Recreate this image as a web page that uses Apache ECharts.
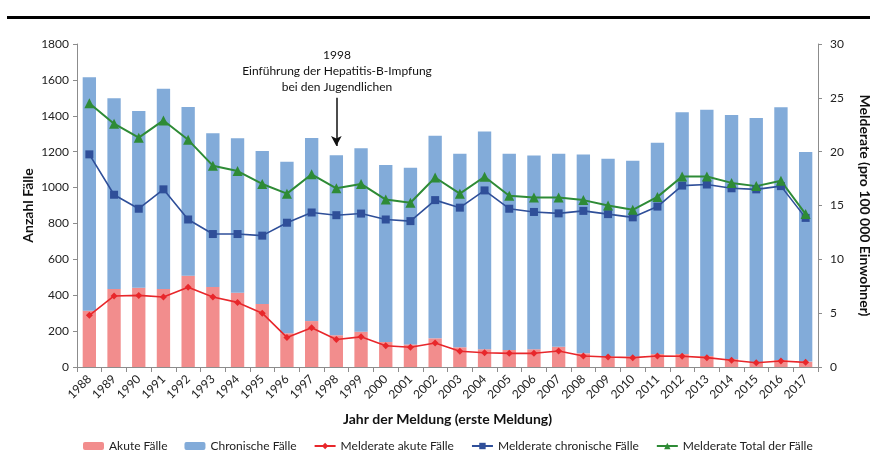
<!DOCTYPE html>
<html>
<head>
<meta charset="utf-8">
<script src="https://cdn.jsdelivr.net/npm/echarts@6/dist/echarts.min.js"></script>
<style>
  html, body { margin: 0; padding: 0; background: #fff; }
  #main { width: 870px; height: 461px; }
</style>
</head>
<body>
<div id="main"></div>
<script>
// Jahre
var years = ['1988','1989','1990','1991','1992','1993','1994','1995','1996','1997',
             '1998','1999','2000','2001','2002','2003','2004','2005','2006','2007',
             '2008','2009','2010','2011','2012','2013','2014','2015','2016','2017'];

// Fallzahlen (gestapelt)
var akuteFaelle = [314, 435, 442, 435, 509, 446, 414, 351, 188, 256,
                   177, 197, 139, 126, 160, 110, 99, 95, 99, 113,
                   76, 60, 58, 72, 72, 61, 45, 24, 39, 30];
var chronischeFaelle = [1301, 1063, 985, 1116, 940, 857, 861, 853, 956, 1020,
                        1003, 1022, 987, 985, 1129, 1079, 1213, 1094, 1079, 1076,
                        1108, 1100, 1092, 1177, 1348, 1373, 1360, 1364, 1408, 1168];

// Melderaten pro 100 000 Einwohner
var rateAkut = [4.8, 6.6, 6.65, 6.5, 7.4, 6.5, 6.0, 5.0, 2.75, 3.65,
                2.55, 2.8, 1.98, 1.83, 2.23, 1.46, 1.33, 1.27, 1.27, 1.49,
                1.02, 0.93, 0.87, 1.02, 1.0, 0.87, 0.62, 0.4, 0.56, 0.43];
var rateChronisch = [19.75, 16.0, 14.7, 16.5, 13.7, 12.35, 12.35, 12.2, 13.4, 14.35,
                     14.1, 14.25, 13.7, 13.55, 15.5, 14.8, 16.4, 14.7, 14.4, 14.27,
                     14.5, 14.2, 13.9, 14.9, 16.85, 16.95, 16.6, 16.5, 16.8, 13.85];
var rateTotal = [24.5, 22.6, 21.3, 22.9, 21.1, 18.7, 18.2, 17.0, 16.1, 17.9,
                 16.6, 17.0, 15.55, 15.25, 17.6, 16.1, 17.67, 15.9, 15.75, 15.75,
                 15.5, 15.0, 14.6, 15.8, 17.7, 17.7, 17.1, 16.8, 17.3, 14.2];

var leftTicks = [0, 1800, 200];
var rightTicks = [0, 30, 5];

var font = 'Lato, "Liberation Sans", sans-serif';
var axisGrey = '#8c8c8c';

var chart = echarts.init(document.getElementById('main'));
chart.setOption({
    animation: false,
    textStyle: { fontFamily: font, color: '#222' },
    grid: { left: 77, right: 52, top: 44, bottom: 94, outerBoundsMode: 'none' },
    graphic: [
        // Linie oben
        { type: 'rect', shape: { x: 7, y: 16, width: 863, height: 3 }, style: { fill: '#000' } },
        // Anmerkung 1998
        {
            type: 'text', x: 337, y: 47,
            style: {
                text: '1998\nEinführung der Hepatitis-B-Impfung\nbei den Jugendlichen',
                font: '12px Lato, "Liberation Sans", sans-serif',
                fill: '#111', align: 'center', verticalAlign: 'top', lineHeight: 16
            }
        }
    ],
    legend: {
        bottom: 9,
        left: 83,
        padding: 0,
        itemWidth: 21,
        itemHeight: 8,
        itemGap: 17,
        textStyle: { fontSize: 12, color: '#222', fontFamily: font },
        data: ['Akute Fälle', 'Chronische Fälle', 'Melderate akute Fälle',
               'Melderate chronische Fälle', 'Melderate Total der Fälle']
    },
    xAxis: {
        type: 'category',
        data: years,
        name: 'Jahr der Meldung (erste Meldung)',
        nameLocation: 'middle',
        nameGap: 45,
        nameMoveOverlap: false,
        nameTextStyle: { fontSize: 14, fontWeight: 'bold', color: '#111' },
        axisLine: { lineStyle: { color: axisGrey } },
        axisTick: { show: true, length: 5, lineStyle: { color: axisGrey } },
        axisLabel: { rotate: 45, fontSize: 12, color: '#222', margin: 10, interval: 0 }
    },
    yAxis: [
        {
            type: 'value',
            min: leftTicks[0], max: leftTicks[1], interval: leftTicks[2],
            name: 'Anzahl Fälle',
            nameLocation: 'middle',
            nameGap: 42,
            nameMoveOverlap: false,
            nameTextStyle: { fontSize: 14, fontWeight: 'bold', color: '#111' },
            axisLine: { show: true, lineStyle: { color: axisGrey } },
            axisTick: { show: true, length: 4, lineStyle: { color: axisGrey } },
            axisLabel: { fontSize: 12, color: '#222', margin: 8, formatter: function (v) { return String(v); } },
            splitLine: { show: false }
        },
        {
            type: 'value',
            min: rightTicks[0], max: rightTicks[1], interval: rightTicks[2],
            name: 'Melderate (pro 100 000 Einwohner)',
            nameLocation: 'middle',
            nameRotate: -90,
            nameGap: 47,
            nameMoveOverlap: false,
            nameTextStyle: { fontSize: 14, fontWeight: 'bold', color: '#111', verticalAlign: 'middle' },
            axisLine: { show: true, lineStyle: { color: axisGrey } },
            axisTick: { show: true, length: 4, lineStyle: { color: axisGrey } },
            axisLabel: { fontSize: 12, color: '#222', margin: 12 },
            splitLine: { show: false }
        }
    ],
    series: [
        {
            name: 'Akute Fälle',
            type: 'bar',
            stack: 'faelle',
            barCategoryGap: '46%',
            itemStyle: { color: '#f28d8d' },
            data: akuteFaelle,
            markLine: {
                silent: true,
                symbol: ['none', 'arrow'],
                symbolSize: [8, 10],
                lineStyle: { color: '#111', width: 1.5, type: 'solid' },
                label: { show: false },
                data: [[{ coord: ['1998', 1500] }, { coord: ['1998', 1232] }]]
            }
        },
        {
            name: 'Chronische Fälle',
            type: 'bar',
            stack: 'faelle',
            itemStyle: { color: '#82abd9' },
            data: chronischeFaelle
        },
        {
            name: 'Melderate akute Fälle',
            type: 'line',
            yAxisIndex: 1,
            symbol: 'diamond',
            symbolSize: 7,
            lineStyle: { color: '#e8272b', width: 1.6 },
            itemStyle: { color: '#e8272b' },
            data: rateAkut
        },
        {
            name: 'Melderate chronische Fälle',
            type: 'line',
            yAxisIndex: 1,
            symbol: 'rect',
            symbolSize: 8,
            lineStyle: { color: '#2f4f99', width: 1.6 },
            itemStyle: { color: '#2f4f99' },
            data: rateChronisch
        },
        {
            name: 'Melderate Total der Fälle',
            type: 'line',
            yAxisIndex: 1,
            symbol: 'triangle',
            symbolSize: 10,
            lineStyle: { color: '#2e8b36', width: 2 },
            itemStyle: { color: '#2e8b36' },
            data: rateTotal
        }
    ]
});
</script>
</body>
</html>
